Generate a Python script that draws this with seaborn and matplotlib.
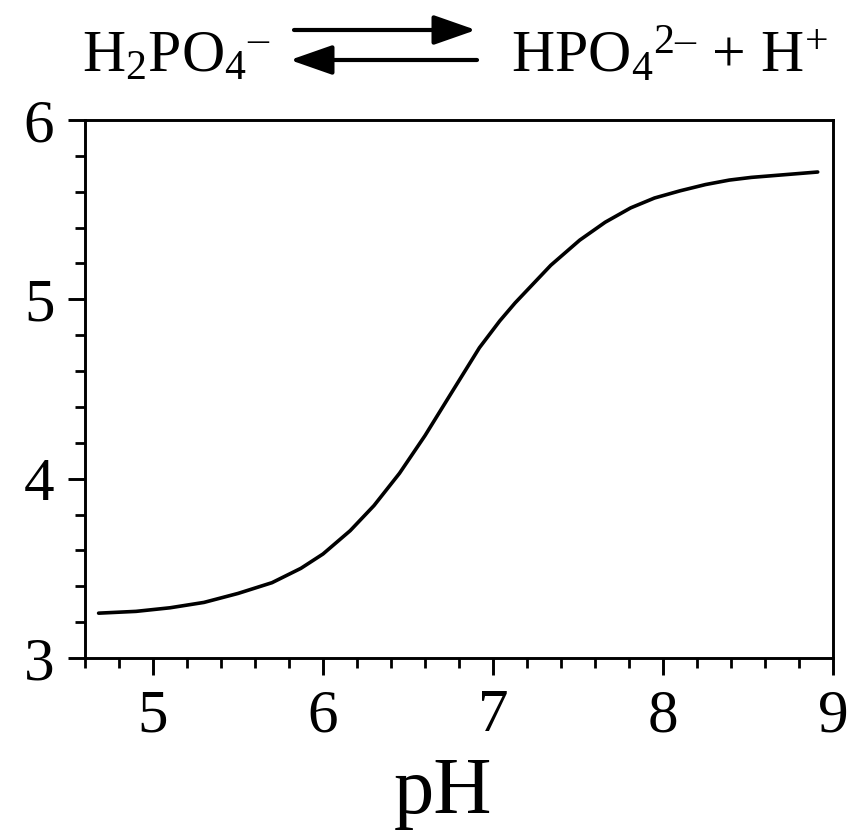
import numpy as np
import pandas as pd
import seaborn as sns
import matplotlib.pyplot as plt
from matplotlib.ticker import MultipleLocator

# titration curve
ph = [4.68, 4.90, 5.10, 5.30, 5.50, 5.70, 5.87, 6.00, 6.16, 6.30, 6.45, 6.60, 6.75,
      6.92, 7.04, 7.13, 7.22, 7.34, 7.51, 7.66, 7.81, 7.95, 8.10, 8.25, 8.39, 8.52,
      8.65, 8.78, 8.91]
shift = [3.25, 3.26, 3.28, 3.31, 3.36, 3.42, 3.50, 3.58, 3.71, 3.85, 4.03, 4.24, 4.47,
         4.73, 4.88, 4.98, 5.07, 5.19, 5.33, 5.43, 5.51, 5.565, 5.605, 5.64, 5.665, 5.68,
         5.69, 5.70, 5.71]
x_ticks = [5, 6, 7, 8, 9]
y_ticks = [3, 4, 5, 6]

left_side = 'H$_2$PO$_4{}^{\u2013}$'
right_side = 'HPO$_4{}^{2\u2013}$ + H$^{+}$'

df = pd.DataFrame({"pH": ph, "shift": shift})

sns.set_theme(style="ticks")
plt.rcParams['font.family'] = ['Liberation Serif', 'DejaVu Serif']
plt.rcParams['mathtext.fontset'] = 'custom'
plt.rcParams['mathtext.rm'] = 'Liberation Serif'
plt.rcParams['mathtext.it'] = 'Liberation Serif:italic'
plt.rcParams['mathtext.bf'] = 'Liberation Serif:bold'
plt.rcParams['text.color'] = 'black'

W, H = 854, 835
fig = plt.figure(figsize=(W / 100, H / 100), dpi=100)
ax = fig.add_axes([85 / W, 1 - 658 / H, (833 - 85) / W, (658 - 120) / H])

sns.lineplot(data=df, x="pH", y="shift", color="black", lw=2.6, ax=ax)

ax.set_xlim(4.6, 9)
ax.set_ylim(3, 6)
ax.set_xticks(x_ticks)
ax.set_yticks(y_ticks)
ax.xaxis.set_minor_locator(MultipleLocator(0.2))
ax.yaxis.set_minor_locator(MultipleLocator(0.2))
ax.tick_params(which="major", direction="out", length=12, width=2.1,
               labelsize=44, pad=10, color="black", labelcolor="black")
ax.tick_params(which="minor", direction="out", length=7, width=2.0, color="black")
ax.tick_params(top=False, right=False)
for s in ax.spines.values():
    s.set_visible(True)
    s.set_linewidth(2.1)
    s.set_color("black")
ax.set_xlabel("")
ax.set_ylabel("")

fig.text(443 / W, 1 - 813 / H, "pH", fontsize=58, ha="center", va="baseline")

# equilibrium above the plot
fig.text(82 / W, 1 - 72 / H, left_side, fontsize=43, ha="left", va="baseline")
fig.text(511 / W, 1 - 72 / H, right_side, fontsize=43, ha="left", va="baseline")
ax.annotate("", xy=(476 / W, 1 - 30 / H), xytext=(294 / W, 1 - 30 / H),
            xycoords="figure fraction", textcoords="figure fraction",
            arrowprops=dict(arrowstyle="-|>,head_length=1.0,head_width=0.35",
                            lw=3.0, color="black", mutation_scale=26,
                            shrinkA=0, shrinkB=0))
ax.annotate("", xy=(290 / W, 1 - 60 / H), xytext=(477 / W, 1 - 60 / H),
            xycoords="figure fraction", textcoords="figure fraction",
            arrowprops=dict(arrowstyle="-|>,head_length=1.0,head_width=0.35",
                            lw=3.0, color="black", mutation_scale=26,
                            shrinkA=0, shrinkB=0))

fig.savefig("out.png", dpi=100)
